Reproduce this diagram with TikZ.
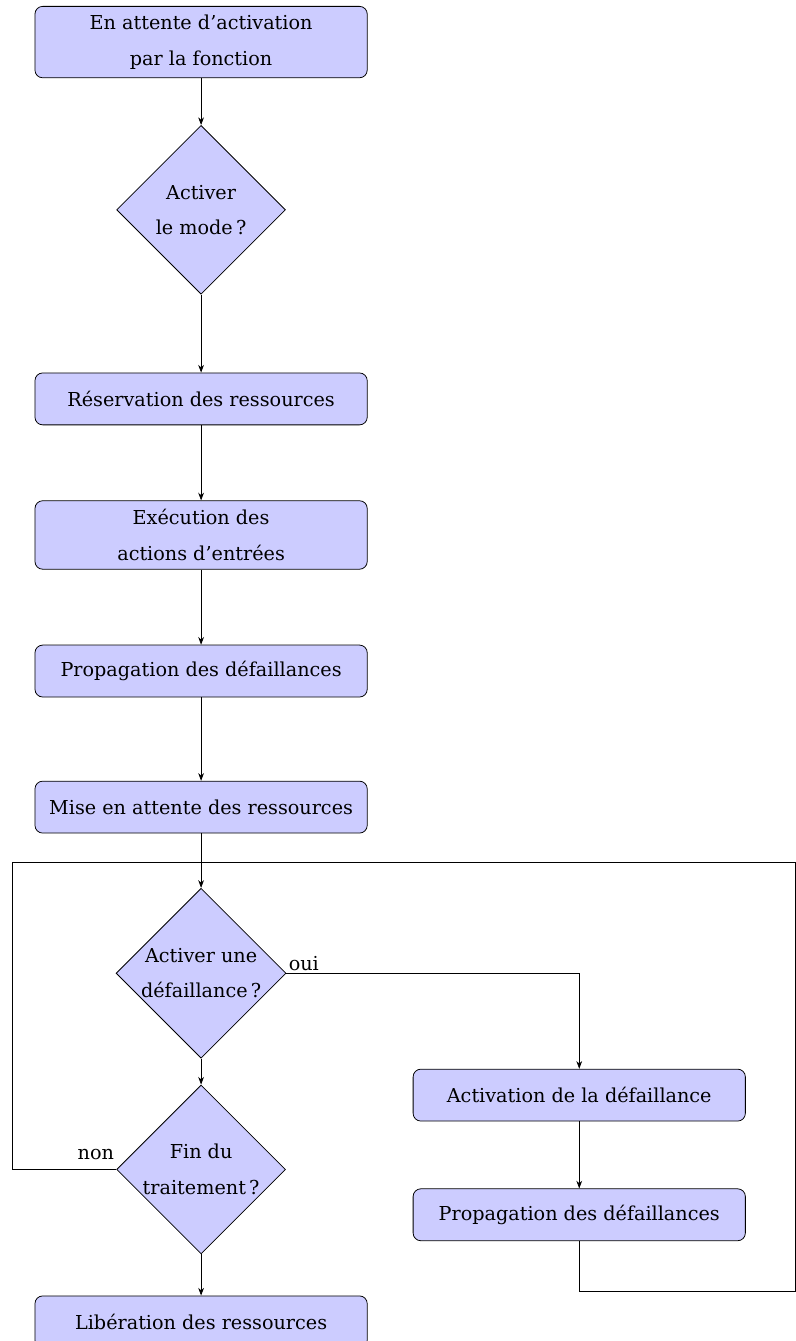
\documentclass[tikz,border=0pt]{standalone}
\usepackage{fontspec}
\setmainfont{DejaVu Serif}
\usepackage{tikz}
\usetikzlibrary{shapes.geometric,arrows.meta}

\begin{document}
\begin{tikzpicture}[>={Stealth[length=4pt,width=3pt]},
        etape/.style={draw, rounded corners=4pt, fill=blue!20, align=center,
            minimum width=6.08cm, minimum height=0.95cm, inner ysep=4.5pt,
            font=\fontsize{10}{18.5}\selectfont},
        test/.style={draw, diamond, aspect=1, fill=blue!20, align=center,
            minimum size=3.09cm, inner sep=0pt,
            font=\fontsize{10}{18.5}\selectfont},
        choix/.style={inner sep=1pt, font=\fontsize{10}{12}\selectfont}]
        \useasboundingbox (0,0) rectangle (14.55,-24.54);

        \node[etape] (attenteFct) at (3.68,-0.77) {En attente d'activation\\par la fonction};
        \node[test] (activerMode) at (3.68,-3.84) {Activer\\le mode\,?};
        \node[etape] (reservation) at (3.68,-7.30) {Réservation des ressources};
        \node[etape] (execution) at (3.68,-9.79) {Exécution des\\actions d'entrées};
        \node[etape] (propagation) at (3.68,-12.28) {Propagation des défaillances};
        \node[etape] (miseAttente) at (3.68,-14.77) {Mise en attente des ressources};
        \node[test] (activerDef) at (3.68,-17.81) {Activer une\\défaillance\,?};
        \node[test] (finTrait) at (3.68,-21.40) {Fin du\\traitement\,?};
        \node[etape] (liberation) at (3.68,-24.19) {Libération des ressources};

        \node[etape] (activation) at (10.60,-20.04) {Activation de la défaillance};
        \node[etape] (propagDef) at (10.60,-22.23) {Propagation des défaillances};

        \coordinate (boucle) at (3.68,-15.79);
        \coordinate (gauche) at (0.22,-15.79);
        \coordinate (droite) at (14.55,-15.79);
        \coordinate (basDroite) at (14.55,-23.63);

        \draw[->] (attenteFct) -- (activerMode);
        \draw[->] (activerMode) -- (reservation);
        \draw[->] (reservation) -- (execution);
        \draw[->] (execution) -- (propagation);
        \draw[->] (propagation) -- (miseAttente);
        \draw[->] (miseAttente) -- (activerDef);
        \draw[->] (activerDef) -- (finTrait);
        \draw[->] (finTrait) -- (liberation);

        \draw[->] (activerDef.east) -| (activation.north);
        \node[choix, anchor=south west] (oui) at (activerDef.east) {oui};
        \draw[->] (activation) -- (propagDef);
        \draw (propagDef.south) |- (basDroite) -- (droite) -- (boucle);

        \draw (finTrait.west) -| (gauche) -- (boucle);
        \node[choix, anchor=south east, yshift=4pt] (non) at (finTrait.west) {non};

    \end{tikzpicture}
\end{document}
